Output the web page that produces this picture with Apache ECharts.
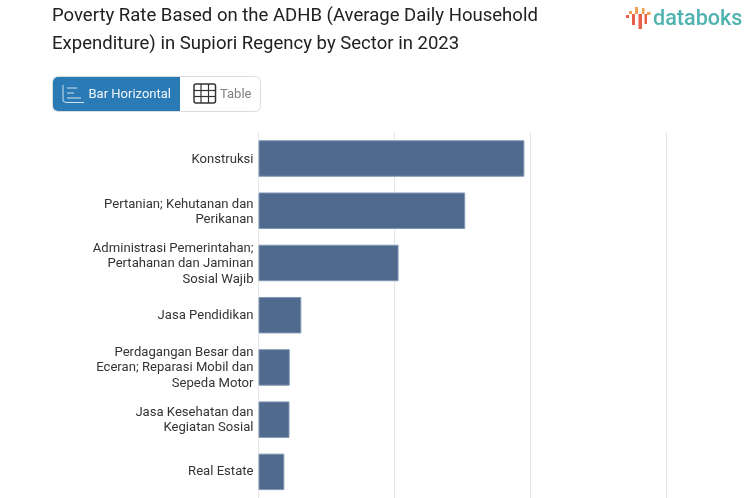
<!DOCTYPE html>
<html><head><meta charset="utf-8">
<style>html,body{margin:0;padding:0;background:#fff;overflow:hidden}#c{width:753px;height:498px}</style>
<script src="https://cdn.jsdelivr.net/npm/echarts@6/dist/echarts.min.js"></script>
</head><body><div id="c"></div>
<script>
const titleLines = ['Poverty Rate Based on the ADHB (Average Daily Household','Expenditure) in Supiori Regency by Sector in 2023'];
const categories = ['Konstruksi','Pertanian; Kehutanan dan\nPerikanan','Administrasi Pemerintahan;\nPertahanan dan Jaminan\nSosial Wajib','Jasa Pendidikan','Perdagangan Besar dan\nEceran; Reparasi Mobil dan\nSepeda Motor','Jasa Kesehatan dan\nKegiatan Sosial','Real Estate'];
const values = [19.55,15.2,10.3,3.15,2.3,2.28,1.9];
const axisMax = 30, axisStep = 10;
const F='Roboto';
const logoBars = [
 {x:626,y:15,w:3,h:3,c:'#e8604c'},{x:629,y:11,w:3,h:3,c:'#f0a050'},{x:632,y:14,w:3,h:11,c:'#e8604c'},
 {x:635,y:7,w:3,h:7,c:'#f0a050'},{x:638.5,y:14,w:3.5,h:15,c:'#e8604c'},{x:642,y:8,w:2.5,h:6,c:'#f0a050'},
 {x:644.5,y:14,w:2.5,h:10,c:'#e8604c'},{x:647,y:12,w:3.5,h:3,c:'#f0a050'}];
const chart = echarts.init(document.getElementById('c'),null,{renderer:'canvas'});
const hiddenLine = {axisTick:{show:false},axisLine:{show:false}};
chart.setOption({
 animation:false,
 title:{show:false},
 grid:[{left:258.5,top:132.4,width:408,height:367.5},{left:258.5,top:134.2,width:408,height:368.5}],
 xAxis:[{type:'value',gridIndex:0,min:0,max:axisMax,interval:axisStep,...hiddenLine,
  axisLabel:{show:false},
  splitLine:{show:true,lineStyle:{color:'#e6e6e6',width:1}}},
  {type:'value',gridIndex:1,min:0,max:axisMax,interval:axisStep,show:false,splitLine:{show:false}}],
 yAxis:[{type:'category',gridIndex:0,inverse:true,data:categories,...hiddenLine,axisLabel:{show:false}},
  {type:'category',gridIndex:1,inverse:true,data:categories,...hiddenLine,
  axisLabel:{interval:0,fontFamily:F,fontSize:13.1,lineHeight:15.5,color:'#333',align:'right',margin:5}}],
 series:[{type:'bar',xAxisIndex:0,yAxisIndex:0,data:values,barWidth:36.5,
  itemStyle:{color:'#4f6a8c',borderColor:'#8399b6',borderWidth:1}}],
 graphic:[
  {type:'text',left:52,top:7,style:{text:titleLines[0],font:'400 18.55px Roboto',fill:'#212121'}},
  {type:'text',left:52,top:34.5,style:{text:titleLines[1],font:'400 18.55px Roboto',fill:'#212121'}},
  {type:'rect',shape:{x:52.5,y:76.5,width:208,height:35,r:5},style:{fill:'#fff',stroke:'#dcdcdc',lineWidth:1}},
  {type:'rect',shape:{x:53,y:77,width:127,height:34,r:[5,0,0,5]},style:{fill:'#2a7ab5'}},
  {type:'polyline',shape:{points:[[63,85],[63,101],[66,102.5],[84,102.5]]},style:{stroke:'#cfe3f2',fill:null,lineWidth:1}},
  {type:'line',shape:{x1:67,y1:88,x2:77,y2:88},style:{stroke:'#cfe3f2',lineWidth:1}},
  {type:'line',shape:{x1:67,y1:93,x2:74,y2:93},style:{stroke:'#cfe3f2',lineWidth:1}},
  {type:'line',shape:{x1:67,y1:98,x2:81,y2:98},style:{stroke:'#cfe3f2',lineWidth:1}},
  {type:'text',left:88.5,top:88,style:{text:'Bar Horizontal',font:'400 13px Roboto',fill:'#f2f7fb'}},
  {type:'rect',shape:{x:194,y:84,width:21.5,height:19,r:2},style:{fill:null,stroke:'#333',lineWidth:1.5}},
  {type:'line',shape:{x1:201,y1:84,x2:201,y2:103},style:{stroke:'#333',lineWidth:1.2}},
  {type:'line',shape:{x1:208.5,y1:84,x2:208.5,y2:103},style:{stroke:'#333',lineWidth:1.2}},
  {type:'line',shape:{x1:194,y1:90.5,x2:215.5,y2:90.5},style:{stroke:'#333',lineWidth:1.2}},
  {type:'line',shape:{x1:194,y1:96.5,x2:215.5,y2:96.5},style:{stroke:'#333',lineWidth:1.2}},
  {type:'text',left:220,top:88,style:{text:'Table',font:'400 13px Roboto',fill:'#808080'}},
  {type:'text',left:653,top:8.5,style:{text:'databoks',font:'500 21.6px Roboto',fill:'#4fb3b0'}}
 ].concat(logoBars.map(b=>({type:'rect',shape:{x:b.x,y:b.y,width:b.w,height:b.h},style:{fill:b.c}})))
});
</script></body></html>
